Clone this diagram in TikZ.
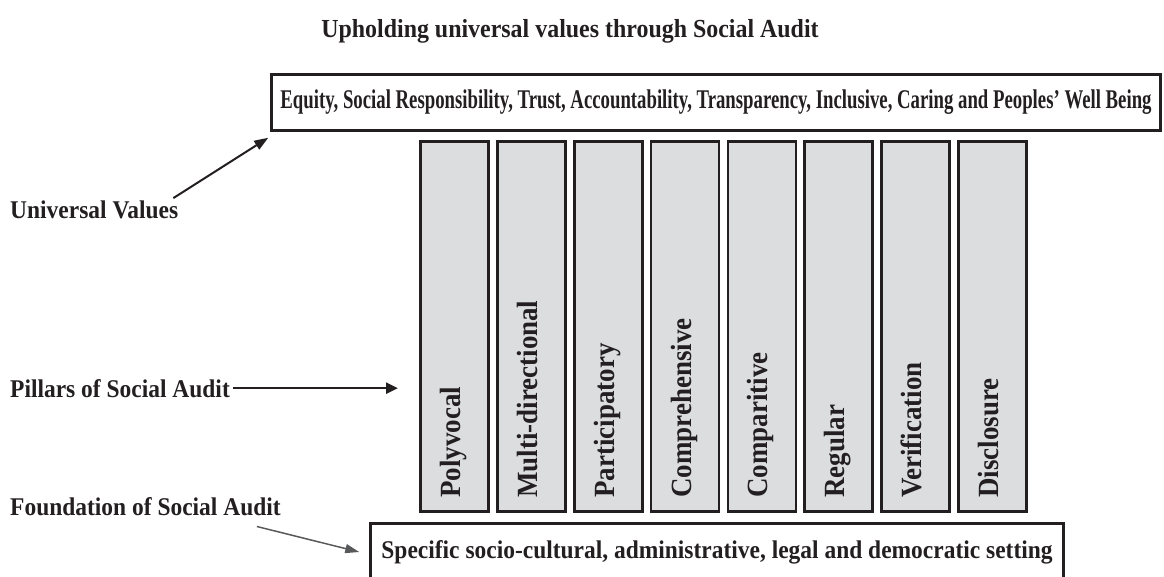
\documentclass[tikz,border=0pt]{standalone}
\usepackage{fontspec}
\setmainfont{Liberation Serif}
\newfontfamily\narrowfont{Liberation Serif}[FakeStretch=0.695]
\newfontfamily\semifont{Liberation Serif}[FakeStretch=0.92]
\usetikzlibrary{arrows.meta,calc}
\definecolor{ink}{HTML}{231F20}
\definecolor{pillfill}{HTML}{DCDDDF}
\definecolor{greyarrow}{HTML}{58595B}
\tikzstyle{pillar}=[draw=ink, line width=2.8pt, fill=pillfill, minimum width=68pt, minimum height=370pt, inner sep=0pt]
\tikzstyle{pilltext}=[rotate=90, anchor=base west, inner sep=0pt, text=ink, font=\semifont\fontsize{29.3}{32}\selectfont\bfseries]
\tikzstyle{side}=[anchor=base west, inner sep=3pt, text=ink, font=\semifont\fontsize{25.5}{30}\selectfont\bfseries]
\tikzstyle{valbox}=[draw=ink, line width=2.5pt, minimum width=889pt, minimum height=56pt, text=ink, font=\narrowfont\fontsize{27}{30}\selectfont\bfseries]
\tikzstyle{basebox}=[draw=ink, line width=2.5pt, minimum width=693pt, text height=17pt, text depth=40pt, inner ysep=17.75pt, text=ink, font=\semifont\fontsize{25.5}{30}\selectfont\bfseries]

\begin{document}
\begin{tikzpicture}[x=1pt, y=-1pt]
  \useasboundingbox (0,0) rectangle (1164,577);
  \clip (0,0) rectangle (1164,577);
  \node[anchor=base, text=ink, font=\semifont\fontsize{26}{30}\selectfont\bfseries] (title) at (570,38)
    {Upholding universal values through Social Audit};
  \node[valbox] (vals) at (716,102.5)
    {Equity, Social Responsibility, Trust, Accountability, Transparency, Inclusive, Caring and Peoples’ Well Being};
  \foreach \name [count=\i from 0] in {Polyvocal, Multi-directional, Participatory, Comprehensive,
      Comparitive, Regular, Verification, Disclosure}{
    \node[pillar] (p\i) at (454.5+76.86*\i,326.5) {};
    \node[pilltext] (t\i) at ($(p\i.south)+(6,-15)$) {\name};
  }
  \node[basebox, anchor=north] (found) at (717,522)
    {Specific socio-cultural, administrative, legal and democratic setting};
  % labels on the left
  \node[side] (uv) at (7,219) {Universal Values};
  \node[side] (pl) at (7,397) {Pillars of Social Audit};
  \node[side] (fnd) at (7,515) {Foundation of Social Audit};
  \coordinate (pltip) at (398,388);
  \draw[ink, line width=2pt, -{Triangle[length=14pt,width=10pt]}] ([xshift=-8pt]uv.north east) -- ([shift={(-2pt,-6pt)}]vals.south west);
  \draw[ink, line width=2.5pt, -{Triangle[length=12pt,width=11pt]}] (pl.east) -- (pl.east -| pltip);
  \draw[greyarrow, line width=1.5pt, -{Triangle[length=14pt,width=9pt]}] ([xshift=-27pt,yshift=-8pt]fnd.south east) -- ([xshift=-10pt,yshift=-30pt]found.north west);
\end{tikzpicture}
\end{document}
